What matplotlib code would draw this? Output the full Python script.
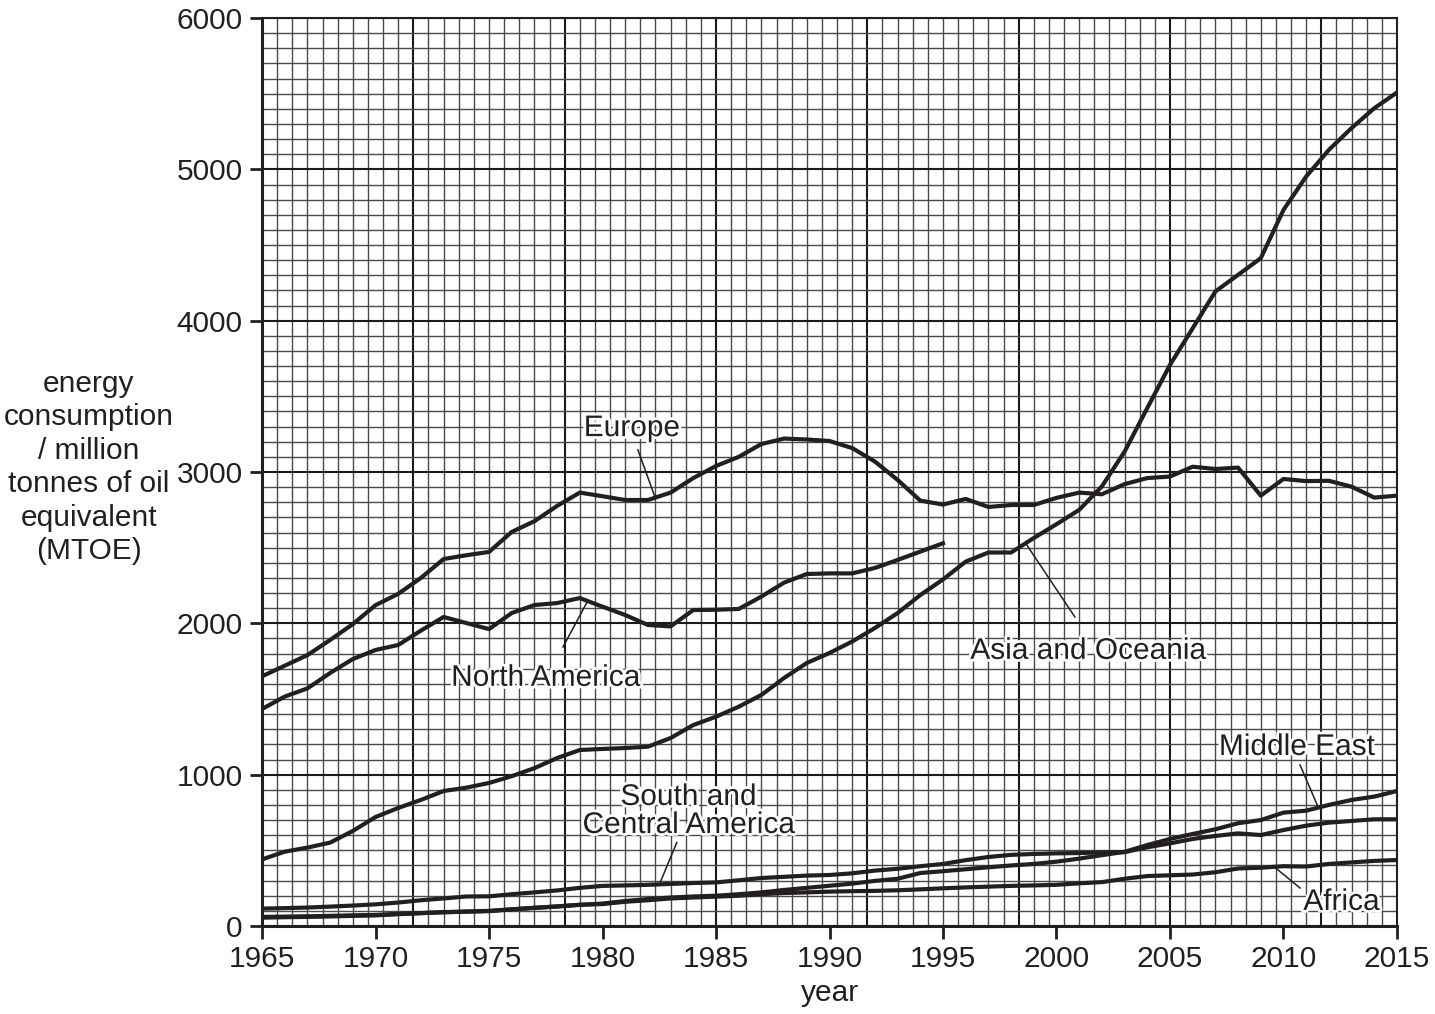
# coding=utf-8
'''
   energy consumption by region, 1965-2015, drawn on graph paper
'''
import matplotlib
matplotlib.use('Agg')
import matplotlib.pyplot as plt
import matplotlib.patheffects as pe
import numpy as np

plt.rcParams['font.family'] = ['Liberation Sans', 'DejaVu Sans']

years = list(range(1965, 2016))

europe = [1650, 1720, 1790, 1890, 1995, 2120, 2195, 2300, 2425, 2450,
          2472, 2604, 2675, 2776, 2864, 2840, 2815, 2815, 2864, 2960,
          3040, 3100, 3185, 3221, 3215, 3205, 3158, 3069, 2948, 2811,
          2785, 2822, 2769, 2782, 2782, 2829, 2864, 2853, 2920, 2960,
          2970, 3035, 3020, 3029, 2844, 2954, 2940, 2942, 2903, 2831,
          2844]

# North America stops at 1995
north_america = [1434, 1516, 1570, 1672, 1764, 1824, 1857, 1952, 2042, 2002,
                 1962, 2068, 2121, 2134, 2167, 2110, 2055, 1989, 1980, 2088,
                 2090, 2095, 2177, 2269, 2326, 2330, 2330, 2366, 2419, 2474,
                 2529]

asia_oceania = [440, 491, 518, 551, 628, 720, 780, 833, 892, 914,
                945, 990, 1043, 1110, 1163, 1170, 1176, 1185, 1242, 1328,
                1383, 1449, 1527, 1639, 1738, 1804, 1880, 1969, 2068, 2187,
                2290, 2408, 2468, 2468, 2564, 2655, 2750, 2905, 3135, 3423,
                3708, 3950, 4193, 4303, 4413, 4732, 4953, 5129, 5273, 5404,
                5508]

south_central_america = [115, 118, 122, 128, 135, 143, 155, 170, 182, 195,
                         196, 210, 222, 235, 252, 265, 268, 272, 278, 284,
                         288, 302, 317, 325, 333, 337, 348, 366, 378, 395,
                         410, 435, 456, 470, 476, 480, 482, 486, 488, 520,
                         546, 575, 595, 612, 601, 634, 663, 683, 694, 705,
                         705]

middle_east = [55, 58, 60, 63, 67, 70, 78, 85, 92, 95,
               100, 110, 120, 130, 140, 148, 165, 178, 188, 195,
               200, 210, 222, 238, 252, 266, 280, 298, 312, 350,
               362, 375, 388, 400, 410, 425, 445, 468, 490, 535,
               575, 608, 639, 679, 700, 749, 762, 800, 833, 855,
               892]

africa = [60, 62, 64, 67, 70, 73, 80, 85, 90, 95,
          98, 110, 120, 128, 140, 145, 160, 170, 182, 188,
          194, 200, 210, 218, 222, 227, 230, 232, 236, 242,
          249, 255, 260, 265, 268, 272, 282, 290, 312, 330,
          335, 340, 355, 380, 385, 395, 393, 410, 420, 430,
          436]

# label text, text position, leader line start -> end
labels = [
    ('Europe', (1981.3, 3290), (1981.56, 3146), (1982.31, 2835)),
    ('North America', (1977.5, 1640), (1979.3, 2135), (1978.26, 1844)),
    ('Asia and Oceania', (2001.4, 1818), (1998.69, 2518), (2000.81, 2042)),
    ('Middle East', (2010.6, 1183), (2010.73, 1064), (2011.52, 788)),
    ('South and\nCentral America', (1983.8, 760), (1983.27, 551), (1982.53, 284)),
    ('Africa', (2012.55, 159), (2009.54, 397), (2010.73, 251)),
]

ink = '#231f20'
fs = 21.5

fig = plt.figure(figsize=(14.35, 10.14), dpi=100)
ax = fig.add_axes([0.1826, 0.0868, 0.7909, 0.8954])

# graph paper: 75 x 60 small squares, heavy line every 10
for i in range(76):
    x = 1965 + i * 2.0 / 3.0
    if i % 10 == 0:
        ax.axvline(x, color='#1a1a1a', lw=1.5, zorder=1)
    else:
        ax.axvline(x, color='#4a4a4a', lw=1.0, zorder=1)
for j in range(61):
    y = j * 100
    if j % 10 == 0:
        ax.axhline(y, color='#1a1a1a', lw=1.5, zorder=1)
    else:
        ax.axhline(y, color='#4a4a4a', lw=1.0, zorder=1)

ax.plot(years, europe, color=ink, lw=3, zorder=3)
ax.plot(years[:len(north_america)], north_america, color=ink, lw=3, zorder=3)
ax.plot(years, asia_oceania, color=ink, lw=3, zorder=3)
ax.plot(years, south_central_america, color=ink, lw=3, zorder=3)
ax.plot(years, middle_east, color=ink, lw=3, zorder=3)
ax.plot(years, africa, color=ink, lw=3, zorder=3)

halo = [pe.withStroke(linewidth=4, foreground='white')]
for text, pos, p0, p1 in labels:
    ax.plot([p0[0], p1[0]], [p0[1], p1[1]], color=ink, lw=1.1, zorder=4)
    ax.text(pos[0], pos[1], text, ha='center', va='center', fontsize=fs,
            color=ink, linespacing=1.0, zorder=5, path_effects=halo)

ax.set_xlim(1965, 2015)
ax.set_ylim(0, 6000)
ax.set_xticks(range(1965, 2016, 5))
ax.set_yticks(range(0, 6001, 1000))
ax.tick_params(axis='both', direction='out', length=9, width=2,
               labelsize=fs, colors=ink, pad=5)
for s in ax.spines.values():
    s.set_linewidth(2.2)
    s.set_color(ink)
    s.set_zorder(6)
ax.spines['top'].set_linewidth(1.5)
ax.spines['right'].set_linewidth(1.5)

ax.set_xlabel('year', fontsize=fs, color=ink, labelpad=4)
fig.text(0.062, 0.539, 'energy\nconsumption\n/ million\ntonnes of oil\nequivalent\n(MTOE)',
         ha='center', va='center', fontsize=fs, color=ink, linespacing=1.25)

fig.savefig('out.png', dpi=100, facecolor='white')
